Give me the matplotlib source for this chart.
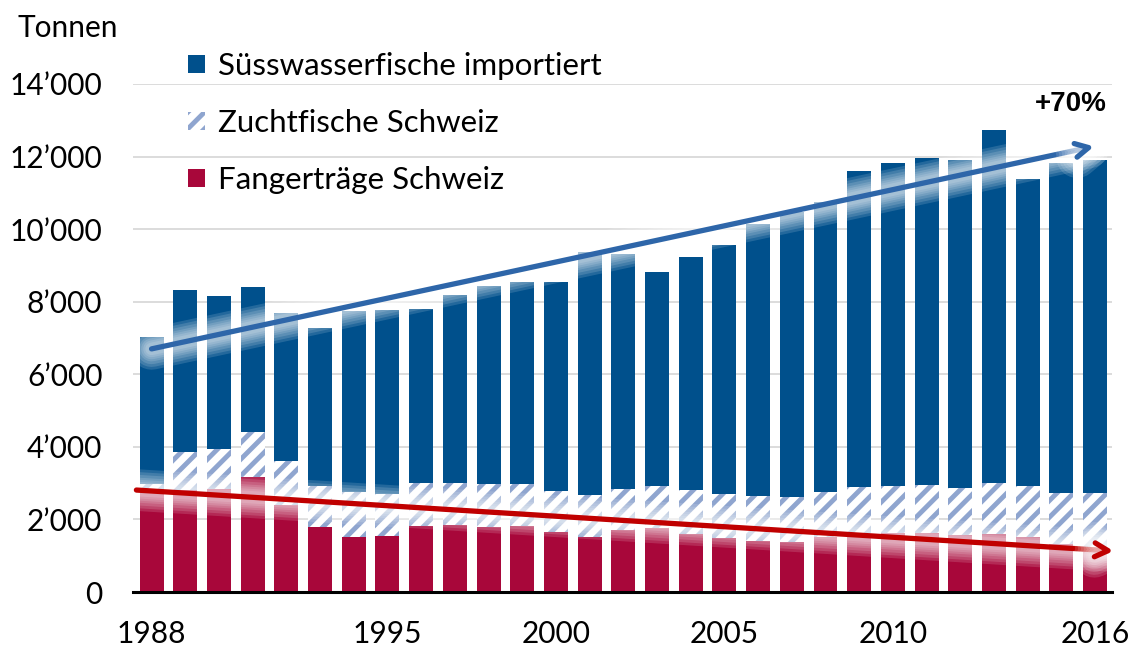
import matplotlib
matplotlib.use('Agg')
import matplotlib.pyplot as plt
import matplotlib.patheffects as pe
from matplotlib.patches import Patch
from matplotlib.ticker import FuncFormatter
import numpy as np

# data (Tonnen)
years = list(range(1988, 2017))
fang = [2850, 2800, 2840, 3180, 2400, 1790, 1520, 1540, 1820, 1840, 1790, 1820, 1660, 1520, 1700,
        1760, 1590, 1490, 1410, 1390, 1520, 1600, 1630, 1630, 1580, 1600, 1510, 1330, 1150]
zucht = [140, 1060, 1090, 1230, 1210, 1120, 1230, 1170, 1190, 1170, 1200, 1150, 1120, 1150, 1150,
         1150, 1210, 1220, 1230, 1220, 1250, 1290, 1300, 1320, 1290, 1400, 1420, 1400, 1580]
importiert = [4040, 4460, 4230, 4000, 4090, 4360, 5000, 5060, 4800, 5170, 5440, 5580, 5760, 6710, 6460,
              5910, 6440, 6860, 7500, 7870, 7990, 8710, 8900, 9020, 9030, 9740, 8450, 9100, 9170]
shown_years = [1988, 1995, 2000, 2005, 2010, 2016]
y_ticks = [0, 2000, 4000, 6000, 8000, 10000, 12000, 14000]

# trend arrows (x as year, y in Tonnen)
trend_up = [(1988.0, 6700), (2015.97, 12280)]
trend_down = [(1987.55, 2810), (2016.55, 1130)]

col_import = '#00508C'
col_zucht = '#8FA5CF'
col_fang = '#A8073A'

plt.rcParams['font.family'] = ['Lato', 'DejaVu Sans']
plt.rcParams['hatch.linewidth'] = 3.5

fig = plt.figure(figsize=(11.35, 6.5), dpi=100)
ax = fig.add_axes([0.1172, 0.0892, 0.8625, 0.7816])

x = np.array(years)
w = 0.71
fang = np.array(fang)
zucht = np.array(zucht)
importiert = np.array(importiert)

ax.bar(x, fang, w, color=col_fang, linewidth=0, zorder=2)
ax.bar(x, zucht, w, bottom=fang, facecolor='white', edgecolor=col_zucht, hatch='//', linewidth=0, zorder=2)
ax.bar(x, importiert, w, bottom=fang + zucht, color=col_import, linewidth=0, zorder=2)

# soft white halo round the trend arrows
glow = [pe.Stroke(linewidth=lw, foreground='white', alpha=0.14) for lw in (30, 26, 22, 18, 15, 12, 9)]
glow.append(pe.Normal())

for (start, end), col in [(trend_up, '#2E66A9'), (trend_down, '#C00000')]:
    ax.annotate('', xy=end, xytext=start, annotation_clip=False,
                arrowprops=dict(arrowstyle='->,head_length=0.95,head_width=0.5', color=col, lw=3.8,
                                shrinkA=0, shrinkB=0, path_effects=glow), zorder=4)

ax.text(2016.35, 13450, '+70%', ha='right', va='center', fontsize=20, fontweight='bold',
        family=['Liberation Sans', 'DejaVu Sans'], zorder=5)

ax.set_xlim(1987.45, 2016.5)
ax.set_ylim(0, 14000)
ax.set_yticks(y_ticks)
ax.yaxis.set_major_formatter(FuncFormatter(lambda v, p: f'{int(v):,}'.replace(',', '\u2019')))
ax.set_xticks(shown_years)
ax.tick_params(axis='both', length=0, labelsize=21.5)
ax.tick_params(axis='y', pad=22)
ax.tick_params(axis='x', pad=20)
ax.grid(axis='y', color='#D9D9D9', lw=1.3, zorder=0)
ax.set_axisbelow(True)
for s in ['top', 'right', 'left']:
    ax.spines[s].set_visible(False)
ax.spines['bottom'].set_linewidth(2.2)
ax.spines['bottom'].set_zorder(3)

fig.text(18 / 1135, 1 - 28 / 650, 'Tonnen', fontsize=21.5, va='center', ha='left')

handles = [Patch(facecolor=col_import, linewidth=0),
           Patch(facecolor='white', edgecolor=col_zucht, hatch='//', linewidth=0),
           Patch(facecolor=col_fang, linewidth=0)]
labels = ['Süsswasserfische importiert', 'Zuchtfische Schweiz', 'Fangerträge Schweiz']
fig.legend(handles, labels, loc='upper left', bbox_to_anchor=(188 / 1135, 1 - 52 / 650),
           frameon=False, fontsize=22.5, handlelength=0.55, handleheight=0.55,
           handletextpad=0.4, labelspacing=0.93, borderpad=0, borderaxespad=0)

fig.savefig('out.png', dpi=100)
